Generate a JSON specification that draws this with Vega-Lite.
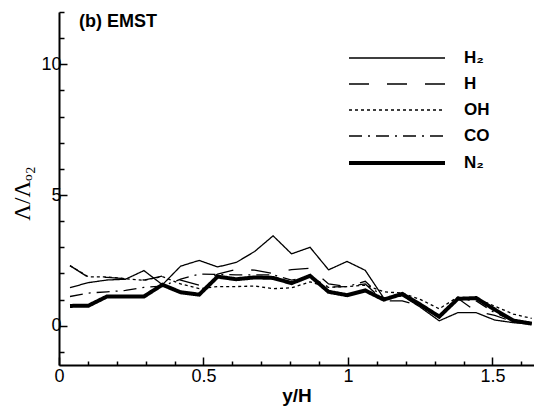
{
  "$schema": "https://vega.github.io/schema/vega-lite/v6.json",
  "width": 475,
  "height": 353,
  "autosize": {"type": "none"},
  "padding": {"left": 59, "top": 12, "right": 0, "bottom": 44},
  "background": "white",
  "config": {
    "view": {"stroke": null},
    "font": "Liberation Sans",
    "axis": {
      "grid": false,
      "domainColor": "black",
      "domainWidth": 2,
      "tickColor": "black",
      "tickWidth": 1.5,
      "labelColor": "black",
      "labelFont": "Liberation Sans",
      "labelFontSize": 18,
      "labelFontWeight": "normal",
      "titleColor": "black"
    }
  },
  "title": {
    "text": "(b) EMST",
    "anchor": "start",
    "frame": "group",
    "orient": "top",
    "baseline": "alphabetic",
    "offset": 0,
    "dx": 20,
    "dy": 42,
    "font": "Liberation Sans",
    "fontSize": 18,
    "fontWeight": "bold",
    "color": "black"
  },
  "data": {
    "values": [
      {"s": "H₂", "x": 0.038, "y": 1.46}, {"s": "H₂", "x": 0.102, "y": 1.65}, {"s": "H₂", "x": 0.166, "y": 1.75}, {"s": "H₂", "x": 0.230, "y": 1.78}, {"s": "H₂", "x": 0.294, "y": 2.11}, {"s": "H₂", "x": 0.358, "y": 1.57}, {"s": "H₂", "x": 0.421, "y": 2.28}, {"s": "H₂", "x": 0.485, "y": 2.5}, {"s": "H₂", "x": 0.549, "y": 2.25}, {"s": "H₂", "x": 0.613, "y": 2.42}, {"s": "H₂", "x": 0.677, "y": 2.84}, {"s": "H₂", "x": 0.741, "y": 3.44}, {"s": "H₂", "x": 0.805, "y": 2.75}, {"s": "H₂", "x": 0.869, "y": 3.0}, {"s": "H₂", "x": 0.933, "y": 2.14}, {"s": "H₂", "x": 0.997, "y": 2.46}, {"s": "H₂", "x": 1.060, "y": 2.12}, {"s": "H₂", "x": 1.124, "y": 1.06}, {"s": "H₂", "x": 1.188, "y": 1.15}, {"s": "H₂", "x": 1.252, "y": 0.7}, {"s": "H₂", "x": 1.316, "y": 0.19}, {"s": "H₂", "x": 1.380, "y": 0.5}, {"s": "H₂", "x": 1.444, "y": 0.5}, {"s": "H₂", "x": 1.508, "y": 0.22}, {"s": "H₂", "x": 1.572, "y": 0.12}, {"s": "H₂", "x": 1.636, "y": 0.06},
      {"s": "H", "x": 0.038, "y": 2.3}, {"s": "H", "x": 0.102, "y": 1.85}, {"s": "H", "x": 0.166, "y": 1.85}, {"s": "H", "x": 0.230, "y": 1.8}, {"s": "H", "x": 0.294, "y": 1.75}, {"s": "H", "x": 0.358, "y": 1.9}, {"s": "H", "x": 0.421, "y": 1.75}, {"s": "H", "x": 0.485, "y": 1.55}, {"s": "H", "x": 0.549, "y": 1.98}, {"s": "H", "x": 0.613, "y": 2.15}, {"s": "H", "x": 0.677, "y": 2.13}, {"s": "H", "x": 0.741, "y": 2.0}, {"s": "H", "x": 0.805, "y": 2.15}, {"s": "H", "x": 0.869, "y": 2.2}, {"s": "H", "x": 0.933, "y": 1.6}, {"s": "H", "x": 0.997, "y": 1.5}, {"s": "H", "x": 1.060, "y": 1.6}, {"s": "H", "x": 1.124, "y": 0.95}, {"s": "H", "x": 1.188, "y": 0.95}, {"s": "H", "x": 1.252, "y": 0.75}, {"s": "H", "x": 1.316, "y": 0.3}, {"s": "H", "x": 1.380, "y": 1.05}, {"s": "H", "x": 1.444, "y": 0.55}, {"s": "H", "x": 1.508, "y": 0.4}, {"s": "H", "x": 1.572, "y": 0.15}, {"s": "H", "x": 1.636, "y": 0.1},
      {"s": "OH", "x": 0.038, "y": 2.3}, {"s": "OH", "x": 0.102, "y": 1.87}, {"s": "OH", "x": 0.166, "y": 1.87}, {"s": "OH", "x": 0.230, "y": 1.8}, {"s": "OH", "x": 0.294, "y": 1.74}, {"s": "OH", "x": 0.358, "y": 1.88}, {"s": "OH", "x": 0.421, "y": 1.6}, {"s": "OH", "x": 0.485, "y": 1.42}, {"s": "OH", "x": 0.549, "y": 1.5}, {"s": "OH", "x": 0.613, "y": 1.5}, {"s": "OH", "x": 0.677, "y": 1.52}, {"s": "OH", "x": 0.741, "y": 1.42}, {"s": "OH", "x": 0.805, "y": 1.45}, {"s": "OH", "x": 0.869, "y": 1.68}, {"s": "OH", "x": 0.933, "y": 1.47}, {"s": "OH", "x": 0.997, "y": 1.5}, {"s": "OH", "x": 1.060, "y": 1.55}, {"s": "OH", "x": 1.124, "y": 1.3}, {"s": "OH", "x": 1.188, "y": 1.25}, {"s": "OH", "x": 1.252, "y": 1.0}, {"s": "OH", "x": 1.316, "y": 0.65}, {"s": "OH", "x": 1.380, "y": 1.1}, {"s": "OH", "x": 1.444, "y": 1.05}, {"s": "OH", "x": 1.508, "y": 0.75}, {"s": "OH", "x": 1.572, "y": 0.45}, {"s": "OH", "x": 1.636, "y": 0.28},
      {"s": "CO", "x": 0.038, "y": 1.12}, {"s": "CO", "x": 0.102, "y": 1.25}, {"s": "CO", "x": 0.166, "y": 1.3}, {"s": "CO", "x": 0.230, "y": 1.35}, {"s": "CO", "x": 0.294, "y": 1.47}, {"s": "CO", "x": 0.358, "y": 1.52}, {"s": "CO", "x": 0.421, "y": 1.78}, {"s": "CO", "x": 0.485, "y": 1.98}, {"s": "CO", "x": 0.549, "y": 1.96}, {"s": "CO", "x": 0.613, "y": 1.95}, {"s": "CO", "x": 0.677, "y": 1.95}, {"s": "CO", "x": 0.741, "y": 1.95}, {"s": "CO", "x": 0.805, "y": 1.75}, {"s": "CO", "x": 0.869, "y": 1.88}, {"s": "CO", "x": 0.933, "y": 1.48}, {"s": "CO", "x": 0.997, "y": 1.5}, {"s": "CO", "x": 1.060, "y": 1.7}, {"s": "CO", "x": 1.124, "y": 1.05}, {"s": "CO", "x": 1.188, "y": 1.15}, {"s": "CO", "x": 1.252, "y": 0.75}, {"s": "CO", "x": 1.316, "y": 0.38}, {"s": "CO", "x": 1.380, "y": 1.05}, {"s": "CO", "x": 1.444, "y": 0.95}, {"s": "CO", "x": 1.508, "y": 0.5}, {"s": "CO", "x": 1.572, "y": 0.2}, {"s": "CO", "x": 1.636, "y": 0.12},
      {"s": "N₂", "x": 0.038, "y": 0.76}, {"s": "N₂", "x": 0.102, "y": 0.77}, {"s": "N₂", "x": 0.166, "y": 1.12}, {"s": "N₂", "x": 0.230, "y": 1.12}, {"s": "N₂", "x": 0.294, "y": 1.12}, {"s": "N₂", "x": 0.358, "y": 1.57}, {"s": "N₂", "x": 0.421, "y": 1.28}, {"s": "N₂", "x": 0.485, "y": 1.19}, {"s": "N₂", "x": 0.549, "y": 1.88}, {"s": "N₂", "x": 0.613, "y": 1.78}, {"s": "N₂", "x": 0.677, "y": 1.85}, {"s": "N₂", "x": 0.741, "y": 1.83}, {"s": "N₂", "x": 0.805, "y": 1.63}, {"s": "N₂", "x": 0.869, "y": 1.91}, {"s": "N₂", "x": 0.933, "y": 1.3}, {"s": "N₂", "x": 0.997, "y": 1.17}, {"s": "N₂", "x": 1.060, "y": 1.35}, {"s": "N₂", "x": 1.124, "y": 1.0}, {"s": "N₂", "x": 1.188, "y": 1.22}, {"s": "N₂", "x": 1.252, "y": 0.8}, {"s": "N₂", "x": 1.316, "y": 0.35}, {"s": "N₂", "x": 1.380, "y": 1.03}, {"s": "N₂", "x": 1.444, "y": 1.06}, {"s": "N₂", "x": 1.508, "y": 0.62}, {"s": "N₂", "x": 1.572, "y": 0.2}, {"s": "N₂", "x": 1.636, "y": 0.08}
    ]
  },
  "mark": {"type": "line", "color": "black", "strokeJoin": "miter", "strokeCap": "butt", "clip": true},
  "encoding": {
    "x": {
      "field": "x",
      "type": "quantitative",
      "scale": {"domain": [0, 1.644], "nice": false, "zero": false},
      "axis": {
        "title": "y/H",
        "titleFont": "Liberation Sans",
        "titleFontSize": 19,
        "titleFontWeight": "bold",
        "titlePadding": -3,
        "values": [0, 0.1, 0.2, 0.3, 0.4, 0.5, 0.6, 0.7, 0.8, 0.9, 1, 1.1, 1.2, 1.3, 1.4, 1.5, 1.6],
        "labelExpr": "abs(datum.value*2-round(datum.value*2))<0.001 ? format(datum.value, '~g') : ''",
        "tickSize": {"condition": {"test": "abs(datum.value*2-round(datum.value*2))<0.001", "value": -8}, "value": -4},
        "labelPadding": 10,
        "labelFlush": false,
        "labelOverlap": false
      }
    },
    "y": {
      "field": "y",
      "type": "quantitative",
      "scale": {"domain": [-1.5, 12], "nice": false, "zero": false},
      "axis": {
        "title": "Λ/Λₒ₂",
        "titleFont": "Liberation Serif",
        "titleFontSize": 23,
        "titleFontWeight": "normal",
        "titleAngle": -90,
        "titleAlign": "center",
        "titleBaseline": "middle",
        "titleX": -37,
        "titleY": 181,
        "values": [-1, 0, 1, 2, 3, 4, 5, 6, 7, 8, 9, 10, 11, 12],
        "labelExpr": "datum.value % 5 === 0 ? format(datum.value, '~g') : ''",
        "tickSize": {"condition": {"test": "datum.value % 5 === 0", "value": -8}, "value": -5},
        "labelPadding": 6,
        "labelOverlap": false,
        "labelFlush": false
      }
    },
    "strokeDash": {
      "field": "s",
      "type": "ordinal",
      "sort": ["H₂", "H", "OH", "CO", "N₂"],
      "scale": {"domain": ["H₂", "H", "OH", "CO", "N₂"], "range": [[1, 0], [20, 18], [3, 3], [13, 6, 2, 6], [1, 0]]},
      "legend": {
        "title": null,
        "orient": "none",
        "legendX": 324,
        "legendY": 33,
        "padding": 0,
        "symbolType": "M-4,0H4",
        "symbolSize": 576,
        "symbolStrokeColor": "black",
        "symbolFillColor": "transparent",
        "labelOffset": 53,
        "labelFont": "Liberation Sans",
        "labelFontSize": 17,
        "labelFontWeight": "bold",
        "labelColor": "black",
        "rowPadding": 5
      }
    },
    "strokeWidth": {
      "field": "s",
      "type": "ordinal",
      "sort": ["H₂", "H", "OH", "CO", "N₂"],
      "scale": {"type": "ordinal", "domain": ["H₂", "H", "OH", "CO", "N₂"], "range": [1.3, 1.3, 1.3, 1.3, 4]},
      "legend": {
        "title": null,
        "orient": "none",
        "legendX": 324,
        "legendY": 33,
        "padding": 0,
        "symbolType": "M-4,0H4",
        "symbolSize": 576,
        "symbolStrokeColor": "black",
        "symbolFillColor": "transparent",
        "labelOffset": 53,
        "labelFont": "Liberation Sans",
        "labelFontSize": 17,
        "labelFontWeight": "bold",
        "labelColor": "black",
        "rowPadding": 5
      }
    }
  }
}
